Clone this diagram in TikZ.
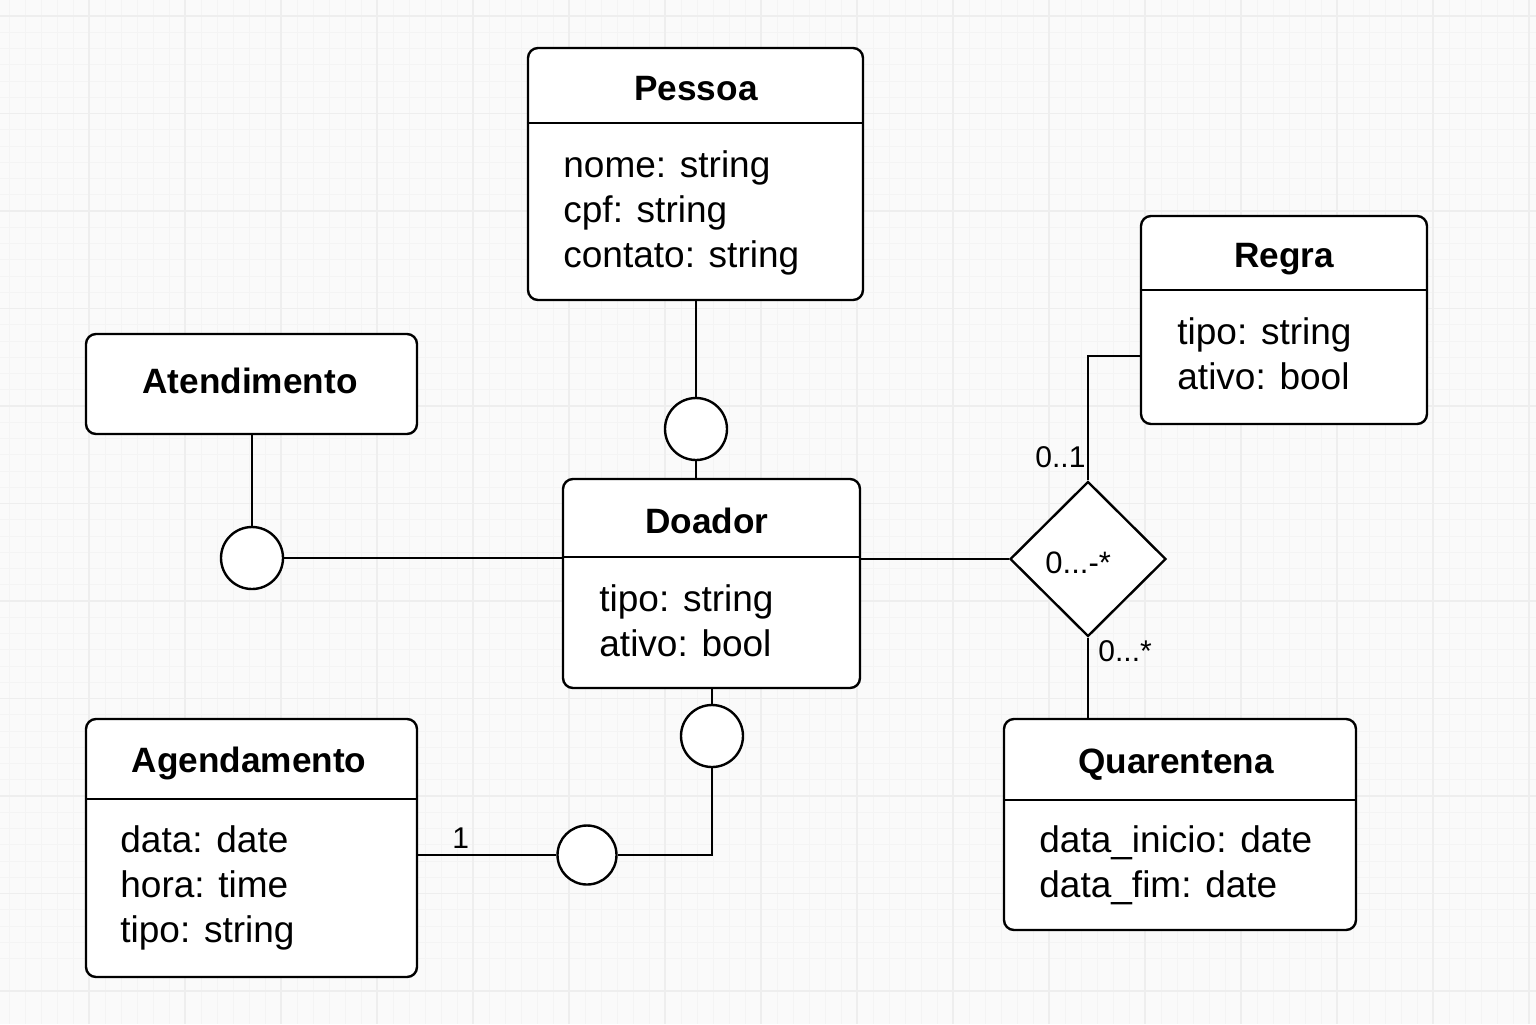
\documentclass[tikz,border=0pt]{standalone}
\usepackage{fontspec}
\setmainfont{Liberation Sans}
\usetikzlibrary{shapes.geometric,fit}
\definecolor{bgc}{HTML}{FAFAFA}
\definecolor{minorc}{HTML}{F4F4F4}
\definecolor{majorc}{HTML}{EEEEEE}
\begin{document}
\begin{tikzpicture}[x=0.5pt,y=-0.5pt,
  ln/.style={draw=black,line width=1.2pt},
  box/.style={ln,rounded corners=5pt,fill=white,inner sep=0pt},
  circ/.style={ln,circle,fill=white,inner sep=0pt,minimum size=31pt},
  ttl/.style={font=\fontsize{17.6}{21}\selectfont\bfseries,inner sep=0pt,anchor=base},
  attr/.style={font=\fontsize{18.5}{22}\selectfont,inner sep=0pt,anchor=base west},
  lbl/.style={font=\fontsize{15}{18}\selectfont,inner sep=0pt,anchor=base west}]
\useasboundingbox (0,0) rectangle (1536,1024);
% background grid
\fill[bgc] (0,0) rectangle (1536,1024);
\foreach \i in {0,...,97} {\draw[minorc,line width=0.3pt] ({-7+16*\i},0) -- ({-7+16*\i},1024);}
\foreach \i in {0,...,64} {\draw[minorc,line width=0.3pt] (0,{-81.5+16.25*\i}) -- (1536,{-81.5+16.25*\i});}
\foreach \i in {0,...,17} {\draw[majorc,line width=0.8pt] ({-7+96*\i},0) -- ({-7+96*\i},1024);}
\foreach \i in {0,...,11} {\draw[majorc,line width=0.8pt] (0,{-81.5+97.5*\i}) -- (1536,{-81.5+97.5*\i});}

% boxes
\node[box,fit={(528,48) (863,300)}] (pessoa) {};
\draw[ln] (pessoa.west |- 0,123) -- (pessoa.east |- 0,123);
\node[ttl] (pessoaT) at (696,100) {Pessoa};
\node[attr] (pessoaA1) at (563,177) {nome: string};
\node[attr] (pessoaA2) at (563,222) {cpf: string};
\node[attr] (pessoaA3) at (563,267) {contato: string};

\node[box,fit={(563,479) (860,688)}] (doador) {};
\draw[ln] (doador.west |- 0,557) -- (doador.east |- 0,557);
\node[ttl] (doadorT) at (707,533) {Doador};
\node[attr] (doadorA1) at (599,611) {tipo: string};
\node[attr] (doadorA2) at (599,656) {ativo: bool};

\node[box,fit={(1141,216) (1427,424)}] (regra) {};
\draw[ln] (regra.west |- 0,290) -- (regra.east |- 0,290);
\node[ttl] (regraT) at (1284,267) {Regra};
\node[attr] (regraA1) at (1177,344) {tipo: string};
\node[attr] (regraA2) at (1177,389) {ativo: bool};

\node[box,fit={(86,334) (417,434)}] (atend) {};
\node[ttl] (atendT) at (250,393) {Atendimento};

\node[box,fit={(86,719) (417,977)}] (agend) {};
\draw[ln] (agend.west |- 0,799) -- (agend.east |- 0,799);
\node[ttl] (agendT) at (249,772) {Agendamento};
\node[attr] (agendA1) at (120,852) {data: date};
\node[attr] (agendA2) at (120,897) {hora: time};
\node[attr] (agendA3) at (120,942) {tipo: string};

\node[box,fit={(1004,719) (1356,930)}] (quar) {};
\draw[ln] (quar.west |- 0,800) -- (quar.east |- 0,800);
\node[ttl] (quarT) at (1176,773) {Quarentena};
\node[attr] (quarA1) at (1039,852) {data\_inicio: date};
\node[attr] (quarA2) at (1039,897) {data\_fim: date};

% circles and diamond
\node[circ] (c1) at (696,429) {};
\node[circ] (c2) at (252,558) {};
\node[circ] (c3) at (712,736) {};
\node[circ,minimum width=29.5pt,minimum height=29.5pt] (c4) at (587,855) {};
\node[diamond,ln,fill=white,inner sep=0pt,minimum width=78pt,minimum height=77.5pt] (dia) at (1088,559) {};
\node[lbl,font=\fontsize{15.5}{18}\selectfont] (diaL) at (1045,573) {0...-*};

% connectors
\draw[ln] (c1.north |- pessoa.south) -- (c1.north);
\draw[ln] (c1.south) -- (c1.south |- doador.north);
\draw[ln] (atend.south -| c2.north) -- (c2.north);
\draw[ln] (c2.east) -- (c2.east -| doador.west);
\draw[ln] (c3.north |- doador.south) -- (c3.north);
\draw[ln] (c3.south) |- (c4.east);
\draw[ln] (c4.west) -- (c4.west -| agend.east);
\draw[ln] (doador.east |- dia.west) -- (dia.west);
\draw[ln] (dia.north) |- (regra.west |- 0,356);
\draw[ln] (dia.south) -- (dia.south |- quar.north);

% multiplicity labels
\node[lbl] (m1) at (1035,467) {0..1};
\node[lbl] (m2) at (1098,661) {0...*};
\node[lbl] (m3) at (452,848) {1};
\end{tikzpicture}
\end{document}
